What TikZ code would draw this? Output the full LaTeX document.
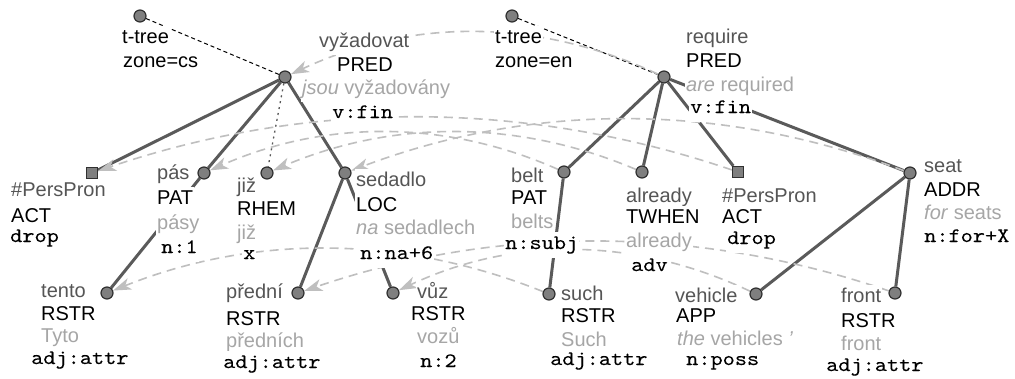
\documentclass[tikz,border=0pt]{standalone}
\usepackage{fontspec}
\setmainfont{Liberation Sans}
\newfontfamily\tagfam{lmmono10-regular.otf}[FakeStretch=1.13,FakeBold=0.1]
\usetikzlibrary{arrows.meta}
\pgfdeclarelayer{bg}
\pgfsetlayers{bg,main}
\definecolor{lemc}{HTML}{555555}
\definecolor{formc}{HTML}{A6A6A6}
\definecolor{edgec}{HTML}{5A5A5A}
\definecolor{vxfill}{HTML}{7F7F7F}
\definecolor{vxline}{HTML}{303030}
\definecolor{alnc}{HTML}{BFBFBF}
\newcommand\lblsans{\fontsize{20}{24}\selectfont}
\newcommand\lbltt{\tagfam\fontsize{20.5}{24}\selectfont}
\begin{document}
\begin{tikzpicture}[x=1pt,y=-1pt,
  vx/.style={circle,draw=vxline,fill=vxfill,line width=1.2pt,minimum size=12pt,inner sep=0pt},
  sq/.style={rectangle,draw=vxline,fill=vxfill,line width=1.2pt,minimum size=11pt,inner sep=0pt},
  lbl/.style={anchor=base west,inner xsep=1pt,inner ysep=2.5pt,fill=white,text height=15pt,text depth=5pt,font=\lblsans},
  lem/.style={lbl,text=lemc},
  fun/.style={lbl,text=black},
  frm/.style={lbl,text=formc},
  zn/.style={lbl,text=black},
  tag/.style={anchor=base west,inner xsep=1pt,inner ysep=4pt,fill=white,font=\lbltt,text=black,text height=13.5pt,text depth=4.5pt},
  tedge/.style={draw=edgec,line width=3pt},
  dotl/.style={draw=edgec,line width=1.3pt,dash pattern=on 2pt off 4pt},
  rootl/.style={draw=black,line width=1pt,dash pattern=on 4pt off 3pt},
  algn/.style={draw=alnc,line width=1.6pt,dash pattern=on 9pt off 6pt,-{Stealth[length=18pt,width=12pt,inset=5pt]}}
]
\useasboundingbox (0,0) rectangle (1015,378);

% ---------- vertices: Czech tree
\node[vx] (csroot) at (140,16) {};
\node[vx] (cspred) at (285,77) {};
\node[sq] (cspp)   at (92,173) {};
\node[vx] (cspas)  at (204,173) {};
\node[vx] (csjiz)  at (267,173) {};
\node[vx] (cssed)  at (345,173) {};
\node[vx] (csten)  at (107,293) {};
\node[vx] (cspre)  at (298,293) {};
\node[vx] (csvuz)  at (393,293) {};
% ---------- vertices: English tree
\node[vx] (enroot)  at (512,16) {};
\node[vx] (enpred)  at (664,77) {};
\node[vx] (enbelt)  at (564,172) {};
\node[vx] (enalr)   at (642,172) {};
\node[sq] (enpp)    at (738,172) {};
\node[vx] (enseat)  at (910,173) {};
\node[vx] (ensuch)  at (549,294) {};
\node[vx] (enveh)   at (756,294) {};
\node[vx] (enfront) at (895,293) {};

\begin{pgfonlayer}{bg}
\fill[white] (0,0) rectangle (1015,378);
% tree edges
\draw[rootl] (csroot) -- (cspred);
\draw[rootl] (enroot) -- (enpred);
\draw[tedge] (cspred) -- (cspp);
\draw[tedge] (cspred) -- (cspas);
\draw[tedge] (cspred) -- (cssed);
\draw[dotl]  (cspred) -- (csjiz);
\draw[tedge] (cspas) -- (csten);
\draw[tedge] (cssed) -- (cspre);
\draw[tedge] (cssed) -- (csvuz);
\draw[tedge] (enpred) -- (enbelt);
\draw[tedge] (enpred) -- (enalr);
\draw[tedge] (enpred) -- (enpp);
\draw[tedge] (enpred) -- (enseat);
\draw[tedge] (enbelt) -- (ensuch);
\draw[tedge] (enseat) -- (enveh);
\draw[tedge] (enseat) -- (enfront);
% alignment arrows
\draw[algn] (enpred)  .. controls +(-126,-59) and +(126,-59) .. (cspred);
\draw[algn] (enpp)    .. controls +(-215,-73) and +(215,-73) .. (cspp);
\draw[algn] (enbelt)  .. controls +(-120,-53) and +(120,-53) .. (cspas);
\draw[algn] (enalr)   .. controls +(-125,-53) and +(125,-53) .. (csjiz);
\draw[algn] (enseat)  .. controls +(-188,-71) and +(188,-71) .. (cssed);
\draw[algn] (ensuch)  .. controls +(-147,-59) and +(147,-59) .. (csten);
\draw[algn] (enfront) .. controls +(-199,-68) and +(199,-68) .. (cspre);
\draw[algn] (enveh)   .. controls +(-121,-57) and +(121,-57) .. (csvuz);
\end{pgfonlayer}

% ---------- labels: Czech
\node[zn] (csroot-a) at (121,43) {t-tree};
\node[zn] (csroot-b) at (122,67) {zone=cs};

\node[lem] (cspred-a) at (318,47) {vyžadovat};
\node[fun] (cspred-b) at (336,71) {PRED};
\node[frm] (cspred-c) at (301,94) {\textit{jsou} vyžadovány};
\node[tag] (cspred-d) at (331,118) {v:fin};

\node[lem] (cspp-a) at (10,196) {\#PersPron};
\node[fun] (cspp-b) at (10,222) {ACT};
\node[tag] (cspp-d) at (9,242) {drop};

\node[lem] (cspas-a) at (156,179) {pás};
\node[fun] (cspas-b) at (156,204) {PAT};
\node[frm] (cspas-c) at (156,229) {pásy};
\node[tag] (cspas-d) at (160,253) {n:1};

\node[lem] (csjiz-a) at (236,192) {již};
\node[fun] (csjiz-b) at (236,215) {RHEM};
\node[frm] (csjiz-c) at (236,239) {již};
\node[tag] (csjiz-d) at (242,259) {x};

\node[lem] (cssed-a) at (355,186) {sedadlo};
\node[fun] (cssed-b) at (355,211) {LOC};
\node[frm] (cssed-c) at (355,234) {\textit{na} sedadlech};
\node[tag] (cssed-d) at (359,259) {n:na+6};

\node[lem] (csten-a) at (40,297) {tento};
\node[fun] (csten-b) at (40,320) {RSTR};
\node[frm] (csten-c) at (40,342) {Tyto};
\node[tag] (csten-d) at (30,364) {adj:attr};

\node[lem] (cspre-a) at (225,298) {přední};
\node[fun] (cspre-b) at (225,325) {RSTR};
\node[frm] (cspre-c) at (225,347) {předních};
\node[tag] (cspre-d) at (222,368) {adj:attr};

\node[lem] (csvuz-a) at (416,298) {vůz};
\node[fun] (csvuz-b) at (410,320) {RSTR};
\node[frm] (csvuz-c) at (416,343) {vozů};
\node[tag] (csvuz-d) at (419,367) {n:2};

% ---------- labels: English
\node[zn] (enroot-a) at (494,43) {t-tree};
\node[zn] (enroot-b) at (494,67) {zone=en};

\node[lem] (enpred-a) at (685,43) {require};
\node[fun] (enpred-b) at (685,67) {PRED};
\node[frm] (enpred-c) at (685,91) {\textit{are} required};
\node[tag] (enpred-d) at (689,113) {v:fin};

\node[lem] (enbelt-a) at (510,182) {belt};
\node[fun] (enbelt-b) at (510,204) {PAT};
\node[frm] (enbelt-c) at (510,228) {belts};
\node[tag] (enbelt-d) at (504,249) {n:subj};

\node[lem] (enalr-a) at (625,202) {already};
\node[fun] (enalr-b) at (625,223) {TWHEN};
\node[frm] (enalr-c) at (625,247) {already};
\node[tag] (enalr-d) at (630,271) {adv};

\node[lem] (enpp-a) at (721,202) {\#PersPron};
\node[fun] (enpp-b) at (721,223) {ACT};
\node[tag] (enpp-d) at (726,244) {drop};

\node[lem] (enseat-a) at (923,172) {seat};
\node[fun] (enseat-b) at (923,196) {ADDR};
\node[frm] (enseat-c) at (923,219) {\textit{for} seats};
\node[tag] (enseat-d) at (923,242) {n:for+X};

\node[lem] (ensuch-a) at (560,300) {such};
\node[fun] (ensuch-b) at (560,322) {RSTR};
\node[frm] (ensuch-c) at (560,346) {Such};
\node[tag] (ensuch-d) at (549,365) {adj:attr};

\node[lem] (enveh-a) at (674,302) {vehicle};
\node[fun] (enveh-b) at (675,322) {APP};
\node[frm] (enveh-c) at (676,345) {\textit{the} vehicles \textit{'}};
\node[tag] (enveh-d) at (685,365) {n:poss};

\node[lem] (enfront-a) at (840,302) {front};
\node[fun] (enfront-b) at (840,327) {RSTR};
\node[frm] (enfront-c) at (840,350) {front};
\node[tag] (enfront-d) at (825,371) {adj:attr};
\end{tikzpicture}
\end{document}
